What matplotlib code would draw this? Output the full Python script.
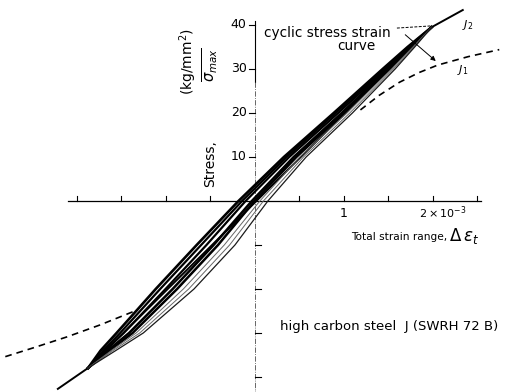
import numpy as np
import matplotlib.pyplot as plt

# strain in units of 1e-3, stress in kg/mm^2
loop_stress = [-37.95, -34, -30, -20, -10, 0, 10, 20, 30, 35, 39.5]

# descending branches (upper-left side of the band), outer to inner
upper_branches = [
    [-1.87, -1.73, -1.55, -1.11, -0.65, -0.18, 0.33, 0.89, 1.44, 1.72, 1.99],
    [-1.87, -1.70, -1.51, -1.06, -0.60, -0.14, 0.36, 0.91, 1.46, 1.73, 1.99],
    [-1.87, -1.68, -1.47, -1.00, -0.54, -0.10, 0.39, 0.94, 1.48, 1.74, 1.99],
]
# middle black pair
middle_branches = [
    [-1.87, -1.65, -1.41, -0.92, -0.46, -0.03, 0.44, 0.98, 1.50, 1.76, 1.99],
    [-1.87, -1.63, -1.37, -0.87, -0.41, 0.00, 0.47, 1.00, 1.52, 1.76, 1.99],
]
# ascending branches (lower-right side), inner to outer
lower_branches = [
    [-1.87, -1.61, -1.33, -0.80, -0.34, 0.06, 0.51, 1.04, 1.54, 1.78, 1.99],
    [-1.87, -1.59, -1.29, -0.74, -0.28, 0.10, 0.55, 1.07, 1.56, 1.79, 1.99],
    [-1.87, -1.56, -1.25, -0.68, -0.22, 0.15, 0.58, 1.10, 1.58, 1.80, 1.99],
]

# cyclic stress strain curve J2
j2_strain = [-2.21, -1.87, 1.99, 2.34]
j2_stress = [-42.7, -37.95, 39.5, 43.4]

# monotonic curve J1 (visible parts)
j1_right_strain = [1.19, 1.40, 1.63, 1.85, 2.06, 2.40, 2.75]
j1_right_stress = [20.7, 24.0, 27.0, 29.2, 30.9, 32.8, 34.4]
j1_left_strain = [-1.37, -1.74, -2.11, -2.49, -2.82]
j1_left_stress = [-25.2, -28.2, -30.9, -33.4, -35.5]

x_ticks = [-2.0, -1.5, -1.0, -0.5, 0.5, 1.0, 1.5, 2.0, 2.5]
y_ticks_pos = [10, 20, 30, 40]
y_ticks_neg = [-10, -20, -30, -40]

fig = plt.figure(figsize=(5.07, 3.92), dpi=100)
ax = fig.add_axes([0, 0, 1, 1])
ax.set_xlim(-2.86, 2.837)
ax.set_ylim(-43.41, 45.68)
ax.axis('off')

# axes
ax.plot([-2.1, 2.55], [0, 0], color='k', lw=0.9)
ax.plot([0, 0], [41.0, 27.0], color='k', lw=0.8)
ax.plot([0, 0], [27.0, -43.4], color='0.3', lw=0.6, ls='-.')
for xt in x_ticks:
    ax.plot([xt, xt], [0, 1.1], color='k', lw=0.8)
for yt in y_ticks_pos:
    ax.plot([-0.065, 0], [yt, yt], color='k', lw=0.8)
    ax.text(-0.09, yt, str(yt), ha='right', va='center', fontsize=9)
for yt in y_ticks_neg:
    ax.plot([0, 0.07], [yt, yt], color='k', lw=0.8)

ax.text(1.0, -2.8, '1', ha='center', va='center', fontsize=9)
ax.text(2.12, -2.6, r'$2\times10^{-3}$', ha='center', va='center', fontsize=8)
ax.text(2.16, -8.2, 'Total strain range,', ha='right', va='center', fontsize=7.6)
ax.text(2.18, -8.0, r'$\Delta\,\epsilon_t$', ha='left', va='center', fontsize=12)

ax.text(-0.50, 8.6, 'Stress,', rotation=90, ha='center', va='center', fontsize=10)
ax.text(-0.74, 31.6, r'(kg/mm$^2$)', rotation=90, ha='center', va='center', fontsize=10)
ax.text(-0.50, 30.9, r'$\overline{\sigma_{max}}$', rotation=90, ha='center', va='center', fontsize=10.5)

# curves
ax.plot(j2_strain, j2_stress, color='k', lw=1.4, zorder=2)
ax.plot(j1_right_strain, j1_right_stress, color='k', lw=1.2, ls=(0, (4, 3)), zorder=2)
ax.plot(j1_left_strain, j1_left_stress, color='k', lw=1.2, ls=(0, (4, 3)), zorder=2)

for br, lw in zip(upper_branches, [1.9, 1.6, 1.6]):
    ax.plot(br, loop_stress, color='k', lw=lw, zorder=3)
for br in middle_branches:
    ax.plot(br, loop_stress, color='k', lw=1.8, zorder=3)
for br, (c, lw) in zip(lower_branches, [('0.4', 0.7), ('0.4', 0.7), ('0.1', 0.9)]):
    ax.plot(br, loop_stress, color=c, lw=lw, zorder=3)

# annotation
ax.text(0.11, 38.2, 'cyclic stress strain', ha='left', va='center', fontsize=9.8)
ax.text(1.14, 35.2, 'curve', ha='center', va='center', fontsize=9.8)
ax.plot([1.6, 1.99], [39.3, 39.8], color='k', lw=0.7, ls=(0, (3, 1.5)))
ax.annotate('', xy=(2.06, 31.4), xytext=(1.67, 38.2),
            arrowprops=dict(arrowstyle='-|>', color='k', lw=0.7, mutation_scale=7))
ax.text(2.39, 40.0, r'$J_2$', ha='center', va='center', fontsize=8)
ax.text(2.34, 29.8, r'$J_1$', ha='center', va='center', fontsize=8)

ax.text(0.29, -28.6, 'high carbon steel  J (SWRH 72 B)', ha='left', va='center', fontsize=9.5)

fig.savefig('out.png', dpi=100)
